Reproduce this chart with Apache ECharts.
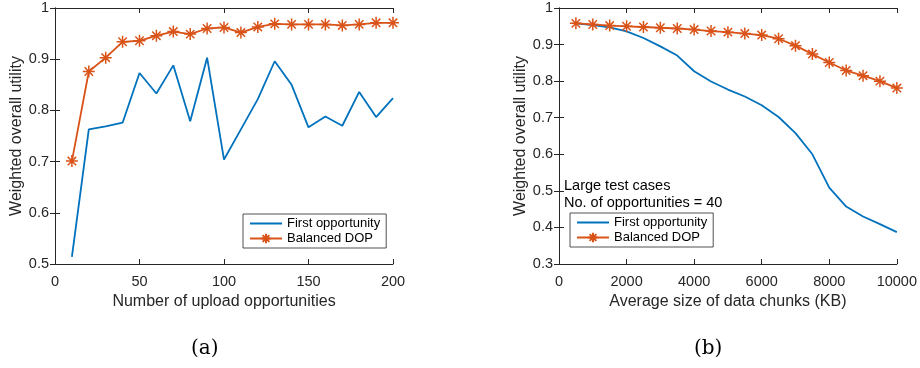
<!DOCTYPE html>
<html>
<head>
<meta charset="utf-8">
<script src="https://cdn.jsdelivr.net/npm/echarts@6/dist/echarts.min.js"></script>
<style>
  html, body { margin: 0; padding: 0; background: #fff; }
  #chart { width: 920px; height: 368px; }
</style>
</head>
<body>
<div id="chart"></div>
<script>
// (a) utility vs number of upload opportunities
const xA = [10, 20, 30, 40, 50, 60, 70, 80, 90, 100, 110, 120, 130, 140, 150, 160, 170, 180, 190, 200]
const firstA = [0.514, 0.763, 0.769, 0.776, 0.873, 0.833, 0.888, 0.779, 0.903, 0.704,
    0.763, 0.822, 0.896, 0.850, 0.767, 0.788, 0.770, 0.836, 0.787, 0.824]
const balancedA = [0.701, 0.876, 0.903, 0.934, 0.936, 0.946, 0.954, 0.949, 0.960, 0.962,
    0.952, 0.963, 0.969, 0.968, 0.968, 0.968, 0.966, 0.968, 0.971, 0.971]

// (b) utility vs average chunk size (KB)
const xB = [500, 1000, 1500, 2000, 2500, 3000, 3500, 4000, 4500, 5000,
    5500, 6000, 6500, 7000, 7500, 8000, 8500, 9000, 9500, 10000]
const firstB = [0.958, 0.953, 0.947, 0.936, 0.918, 0.895, 0.870, 0.827, 0.799, 0.777,
    0.758, 0.734, 0.702, 0.658, 0.600, 0.509, 0.457, 0.430, 0.409, 0.387]
const balancedB = [0.958, 0.955, 0.952, 0.950, 0.948, 0.946, 0.944, 0.941, 0.937, 0.934,
    0.930, 0.926, 0.916, 0.897, 0.874, 0.851, 0.829, 0.815, 0.800, 0.781]

const seriesNames = ['First opportunity', 'Balanced DOP']
const captions = ['(a)', '(b)']

const BLUE = '#0072BD'
const ORANGE = '#D95319'
const INK = '#262626'
const SANS = '"Liberation Sans", Arial, Helvetica, sans-serif'
const STAR = 'path://M10,0L10,20M0,10L20,10M3,3L17,17M3,17L17,3'

const pairs = (xs, ys) => xs.map((x, i) => [x, ys[i]])
const yFmt = v => String(+v.toFixed(1))
const xFmt = v => String(v)

function xAxisOf(gridIndex, max, interval, name) {
    return [
        {
            type: 'value', gridIndex, min: 0, max, interval,
            name, nameLocation: 'middle', nameGap: 30,
            nameTextStyle: { color: INK, fontSize: 16, fontFamily: SANS },
            axisLine: { lineStyle: { color: INK, width: 1 } },
            axisTick: { inside: true, length: 5, lineStyle: { color: INK } },
            axisLabel: { color: INK, fontSize: 14.5, fontFamily: SANS, margin: 10, formatter: xFmt },
            splitLine: { show: false }
        },
        {
            type: 'value', gridIndex, min: 0, max, interval, position: 'top',
            axisLine: { lineStyle: { color: INK, width: 1 } },
            axisTick: { inside: true, length: 5, lineStyle: { color: INK } },
            axisLabel: { show: false },
            splitLine: { show: false }
        }
    ]
}

function yAxisOf(gridIndex, min) {
    return [
        {
            type: 'value', gridIndex, min, max: 1, interval: 0.1,
            name: 'Weighted overall utility', nameLocation: 'middle', nameGap: 29,
            nameTextStyle: { color: INK, fontSize: 16, fontFamily: SANS },
            axisLine: { show: true, lineStyle: { color: INK, width: 1 } },
            axisTick: { show: true, inside: true, length: 5, lineStyle: { color: INK } },
            axisLabel: { color: INK, fontSize: 14.5, fontFamily: SANS, margin: 6, formatter: yFmt },
            splitLine: { show: false }
        },
        {
            type: 'value', gridIndex, min, max: 1, interval: 0.1, position: 'right',
            axisLine: { show: true, lineStyle: { color: INK, width: 1 } },
            axisTick: { show: true, inside: true, length: 5, lineStyle: { color: INK } },
            axisLabel: { show: false },
            splitLine: { show: false }
        }
    ]
}

function firstSeries(idx, data) {
    return {
        name: seriesNames[0], type: 'line',
        xAxisIndex: idx * 2, yAxisIndex: idx * 2,
        symbol: 'none', animation: false,
        lineStyle: { color: BLUE, width: 1.8 },
        itemStyle: { color: BLUE },
        data
    }
}

function balancedSeries(idx, data) {
    return {
        name: seriesNames[1], type: 'line',
        xAxisIndex: idx * 2, yAxisIndex: idx * 2,
        symbol: STAR, symbolSize: 12, showAllSymbol: true, animation: false,
        lineStyle: { color: ORANGE, width: 1.8 },
        itemStyle: { color: ORANGE, borderColor: ORANGE, borderWidth: 1.5 },
        data
    }
}

function legendAt(left, top) {
    return {
        orient: 'vertical', left, top,
        data: [
            { name: seriesNames[0], itemStyle: { color: 'rgba(0,0,0,0)', borderWidth: 0 } },
            { name: seriesNames[1] }
        ],
        backgroundColor: '#fff',
        borderColor: INK, borderWidth: 0.8,
        padding: [3, 6, 3, 6], itemGap: 2,
        itemWidth: 32, itemHeight: 12,
        textStyle: { color: '#000', fontSize: 13, fontFamily: SANS },
        selectedMode: false
    }
}

const chart = echarts.init(document.getElementById('chart'))

chart.setOption({
    animation: false,
    grid: [
        { left: 55, right: 527, top: 8, bottom: 104 },
        { left: 559, right: 23, top: 8, bottom: 104 }
    ],
    xAxis: [
        ...xAxisOf(0, 200, 50, 'Number of upload opportunities'),
        ...xAxisOf(1, 10000, 2000, 'Average size of data chunks (KB)')
    ],
    yAxis: [
        ...yAxisOf(0, 0.5),
        ...yAxisOf(1, 0.3)
    ],
    legend: [legendAt(243, 214), legendAt(570, 213)],
    graphic: [
        {
            type: 'text', left: 564, top: 177,
            style: {
                text: 'Large test cases\nNo. of opportunities = 40',
                fill: '#000', font: '14.5px ' + SANS, lineHeight: 17.5
            }
        },
        {
            type: 'text', left: 191, top: 339,
            style: { text: captions[0], fill: '#000', font: '20px "DejaVu Serif", serif' }
        },
        {
            type: 'text', left: 694, top: 339,
            style: { text: captions[1], fill: '#000', font: '20px "DejaVu Serif", serif' }
        }
    ],
    series: [
        firstSeries(0, pairs(xA, firstA)),
        balancedSeries(0, pairs(xA, balancedA)),
        firstSeries(1, pairs(xB, firstB)),
        balancedSeries(1, pairs(xB, balancedB))
    ]
})

window.addEventListener('resize', () => chart.resize())
</script>
</body>
</html>
